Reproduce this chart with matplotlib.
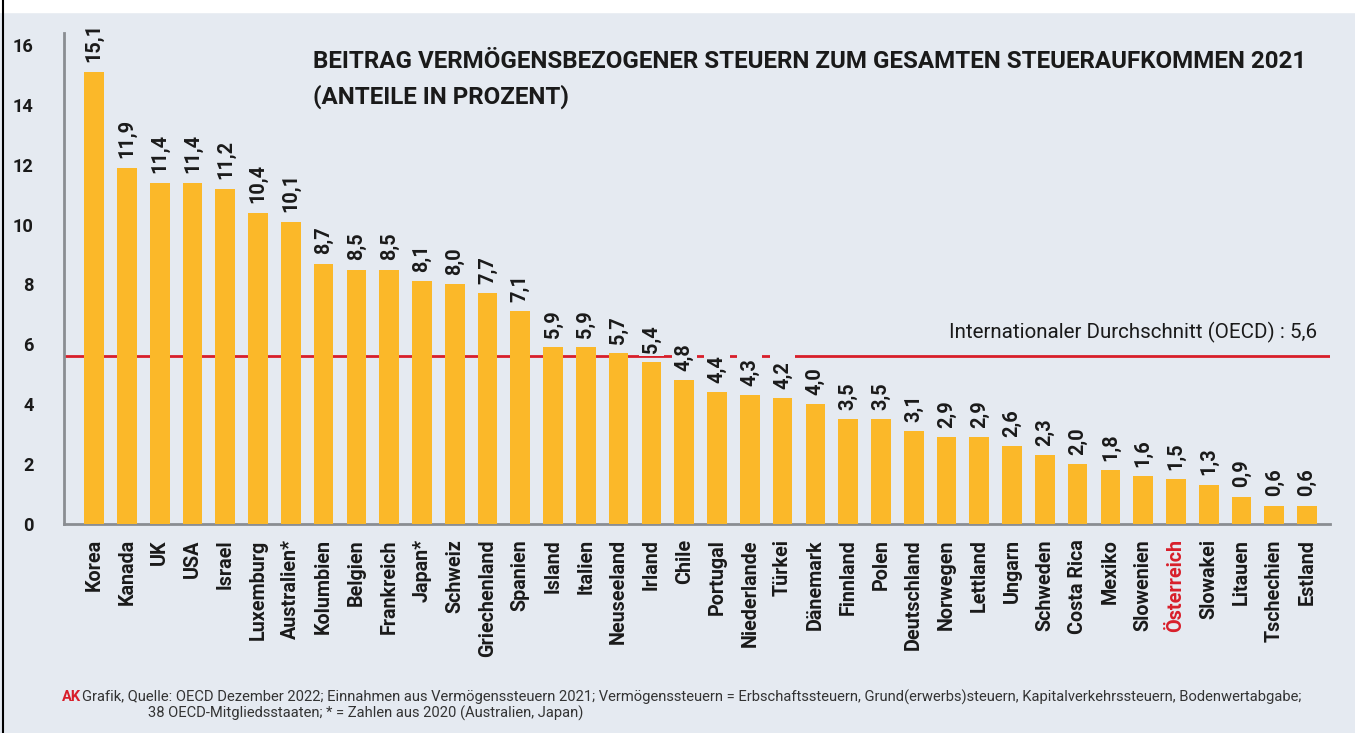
"""
Vermögensbezogene Steuern - OECD Vergleich 2021
Balkendiagramm mit OECD-Durchschnittslinie
"""

import matplotlib.pyplot as plt
from matplotlib.lines import Line2D
from matplotlib.patches import Rectangle
from matplotlib.transforms import IdentityTransform

# ============================================================================
# Daten
# ============================================================================
COUNTRIES = [
    'Korea', 'Kanada', 'UK', 'USA', 'Israel', 'Luxemburg', 'Australien*',
    'Kolumbien', 'Belgien', 'Frankreich', 'Japan*', 'Schweiz', 'Griechenland',
    'Spanien', 'Island', 'Italien', 'Neuseeland', 'Irland', 'Chile', 'Portugal',
    'Niederlande', 'Türkei', 'Dänemark', 'Finnland', 'Polen', 'Deutschland',
    'Norwegen', 'Lettland', 'Ungarn', 'Schweden', 'Costa Rica', 'Mexiko',
    'Slowenien', 'Österreich', 'Slowakei', 'Litauen', 'Tschechien', 'Estland',
]
SHARES = [
    15.1, 11.9, 11.4, 11.4, 11.2, 10.4, 10.1,
    8.7, 8.5, 8.5, 8.1, 8.0, 7.7,
    7.1, 5.9, 5.9, 5.7, 5.4, 4.8, 4.4,
    4.3, 4.2, 4.0, 3.5, 3.5, 3.1,
    2.9, 2.9, 2.6, 2.3, 2.0, 1.8,
    1.6, 1.5, 1.3, 0.9, 0.6, 0.6,
]
OECD_AVG = 5.6
Y_TICKS = [0, 2, 4, 6, 8, 10, 12, 14, 16]
HIGHLIGHT = 'Österreich'

TITLE_1 = 'BEITRAG VERMÖGENSBEZOGENER STEUERN ZUM GESAMTEN STEUERAUFKOMMEN 2021'
TITLE_2 = '(ANTEILE IN PROZENT)'
FOOTER_1 = ('Grafik, Quelle: OECD Dezember 2022; Einnahmen aus Vermögenssteuern 2021; '
            'Vermögenssteuern = Erbschaftssteuern, Grund(erwerbs)steuern, '
            'Kapitalverkehrssteuern, Bodenwertabgabe;')
FOOTER_2 = '38 OECD-Mitgliedsstaaten; * = Zahlen aus 2020 (Australien, Japan)'

# ============================================================================
# Farben
# ============================================================================
BG = '#e5eaf1'
BAR = '#fbb829'
RED = '#d81e2a'
AXIS = '#8a8d92'
INK = '#1a1a1a'

plt.rcParams['font.family'] = ['Roboto', 'DejaVu Sans']

W, H = 1355, 733


def fmt(v):
    return f'{v:.1f}'.replace('.', ',')


def fit(txt, target_px, renderer, vertical=False):
    """Schriftgröße so anpassen, dass der Text die Zielbreite hat"""
    bb = txt.get_window_extent(renderer)
    size = bb.height if vertical else bb.width
    fs = txt.get_fontsize() * target_px / size
    txt.set_fontsize(fs)
    return fs


def probe_size(ax, text, target_px, renderer):
    t = ax.text(0, 0, text, rotation=90, fontsize=14, fontweight='bold')
    fs = fit(t, target_px, renderer, vertical=True)
    t.remove()
    return fs


def main():
    fig = plt.figure(figsize=(W / 100, H / 100), dpi=100)
    fig.patch.set_facecolor(BG)
    renderer = fig.canvas.get_renderer()

    # weisser Streifen oben + schwarzer Rand links
    fig.add_artist(plt.Rectangle((0, 1 - 12 / H), 1, 12 / H,
                                 transform=fig.transFigure, color='white', zorder=0))
    fig.add_artist(Line2D([2.5 / W, 2.5 / W], [0, 1], transform=fig.transFigure,
                          color='black', lw=1.5))

    ax = fig.add_axes([64 / W, 1 - 524 / H, (1330 - 64) / W, (524 - 33) / H])
    ax.set_facecolor(BG)

    x = list(range(len(COUNTRIES)))
    ax.bar(x, SHARES, width=0.6, color=BAR, zorder=3)

    # OECD-Durchschnitt
    ax.axhline(OECD_AVG, color=RED, lw=2, zorder=2)
    oecd = ax.text(37.3, OECD_AVG + 0.45,
                   f'Internationaler Durchschnitt (OECD) : {fmt(OECD_AVG)}',
                   ha='right', va='bottom', fontsize=13, color=INK, zorder=4)
    fit(oecd, 367, renderer)

    ax.set_xlim(-0.92, 37.7)
    ax.set_ylim(0, 16.4)

    # Werte über den Balken
    fs_val = probe_size(ax, '4,4', 28, renderer)
    value_texts = []
    for xi, v in zip(x, SHARES):
        t = ax.text(xi, v + 0.32, fmt(v), rotation=90, ha='center', va='bottom',
                    fontsize=fs_val, fontweight='bold', color=INK, zorder=4)
        value_texts.append(t)

    # Hintergrund hinter den Werten unterbricht die Durchschnittslinie
    for t in value_texts:
        bb = t.get_window_extent(renderer)
        ax.add_patch(Rectangle((bb.x0 - 3, bb.y0 - 3), bb.width + 6, bb.height + 9,
                               transform=IdentityTransform(), facecolor=BG,
                               edgecolor='none', zorder=3.5))

    ax.set_yticks(Y_TICKS)
    ax.set_xticks(x)

    fs_tick = probe_size(ax, 'Griechenland', 118, renderer)
    ax.set_xticklabels(COUNTRIES, rotation=90, fontsize=fs_tick, fontweight='bold')
    ax.set_yticklabels([str(t) for t in Y_TICKS], fontsize=fs_val * 0.92, fontweight='bold')
    ax.tick_params(axis='y', length=0, pad=22, colors=INK)
    ax.tick_params(axis='x', length=0, pad=11, colors=INK)
    for lbl in ax.get_xticklabels():
        if lbl.get_text() == HIGHLIGHT:
            lbl.set_color(RED)

    for s in ['top', 'right']:
        ax.spines[s].set_visible(False)
    for s in ['left', 'bottom']:
        ax.spines[s].set_color(AXIS)
        ax.spines[s].set_linewidth(2)

    # Titel
    t1 = fig.text(313 / W, 1 - 62 / H, TITLE_1, ha='left', va='center', fontsize=16,
                  fontweight='bold', color=INK)
    fs_title = fit(t1, 992, renderer)
    fig.text(313 / W, 1 - 97 / H, TITLE_2, ha='left', va='center', fontsize=fs_title,
             fontweight='bold', color=INK)

    # Fussnote
    ak = fig.text(62 / W, 1 - 697 / H, 'AK', ha='left', va='center', fontsize=9.5,
                  fontweight='bold', color=RED)
    f1 = fig.text(82 / W, 1 - 697 / H, FOOTER_1, ha='left', va='center', fontsize=9.5,
                  color='#333333')
    fs_foot = fit(f1, 1223, renderer)
    ak.set_fontsize(fs_foot)
    fig.text(148 / W, 1 - 713 / H, FOOTER_2, ha='left', va='center', fontsize=fs_foot,
             color='#333333')

    fig.savefig('out.png', dpi=100, facecolor=fig.get_facecolor())
    plt.close(fig)


if __name__ == '__main__':
    main()
